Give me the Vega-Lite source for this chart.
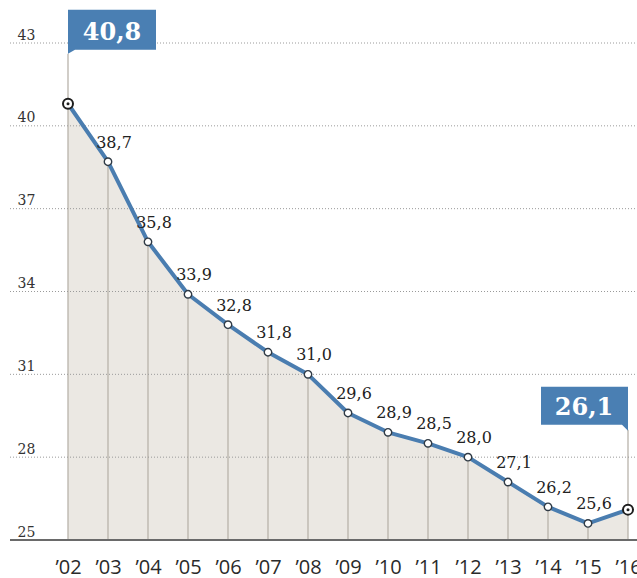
{
  "$schema": "https://vega.github.io/schema/vega-lite/v6.json",
  "width": 637,
  "height": 578,
  "autosize": "none",
  "padding": 0,
  "background": "white",
  "config": {
    "view": {"stroke": null},
    "locale": {"number": {"decimal": ",", "thousands": ".", "grouping": [3], "currency": ["", " €"]}}
  },
  "datasets": {
    "series": [
      {"year": 2002, "value": 40.8},
      {"year": 2003, "value": 38.7},
      {"year": 2004, "value": 35.8},
      {"year": 2005, "value": 33.9},
      {"year": 2006, "value": 32.8},
      {"year": 2007, "value": 31.8},
      {"year": 2008, "value": 31.0},
      {"year": 2009, "value": 29.6},
      {"year": 2010, "value": 28.9},
      {"year": 2011, "value": 28.5},
      {"year": 2012, "value": 28.0},
      {"year": 2013, "value": 27.1},
      {"year": 2014, "value": 26.2},
      {"year": 2015, "value": 25.6},
      {"year": 2016, "value": 26.1}
    ],
    "grid": [{"g": 28}, {"g": 31}, {"g": 34}, {"g": 37}, {"g": 40}, {"g": 43}],
    "base": [{"b": 25}]
  },
  "layer": [
    {
      "data": {"name": "series"},
      "mark": {"type": "area", "color": "#ebe8e3", "interpolate": "linear"},
      "encoding": {
        "x": {"field": "year", "type": "quantitative", "title": null,
              "scale": {"domain": [2002, 2016], "range": [68, 628], "zero": false, "nice": false},
              "axis": {"values": [2002,2003,2004,2005,2006,2007,2008,2009,2010,2011,2012,2013,2014,2015,2016],
                       "labelExpr": "'’' + substring(toString(datum.value), 2, 4)",
                       "domain": false, "ticks": false, "tickSize": 0, "grid": false, "labelFont": "Open Sans",
                       "labelFontSize": 20, "labelColor": "#2a2a2a", "labelPadding": -5,
                       "labelBaseline": "alphabetic", "labelFlush": false, "labelOverlap": false, "labelBound": false}},
        "y": {"field": "value", "type": "quantitative", "title": null,
              "scale": {"domain": [25, 43], "range": [540, 43], "zero": false, "nice": false},
              "axis": {"values": [25, 28, 31, 34, 37, 40, 43], "format": "d", "domain": false, "ticks": false, "tickSize": 0,
                       "grid": false, "labelAlign": "left", "labelPadding": -17, "labelOffset": -4,
                       "labelBaseline": "alphabetic", "labelFont": "DejaVu Serif", "labelFontSize": 14,
                       "labelColor": "#333333", "labelBound": false}},
        "y2": {"datum": 25}
      }
    },
    {
      "data": {"name": "series"},
      "mark": {"type": "rule", "color": "#b9b3ab", "strokeWidth": 1.3},
      "encoding": {
        "x": {"field": "year", "type": "quantitative"},
        "y": {"field": "value", "type": "quantitative"},
        "y2": {"datum": 25}
      }
    },
    {
      "data": {"name": "series"},
      "transform": [{"filter": "datum.year == 2002"}],
      "mark": {"type": "rule", "color": "#b9b3ab", "strokeWidth": 1.3, "y2Offset": -50},
      "encoding": {
        "x": {"field": "year", "type": "quantitative"},
        "y": {"field": "value", "type": "quantitative"},
        "y2": {"field": "value"}
      }
    },
    {
      "data": {"name": "series"},
      "transform": [{"filter": "datum.year == 2016"}],
      "mark": {"type": "rule", "color": "#b9b3ab", "strokeWidth": 1.3, "y2Offset": -80},
      "encoding": {
        "x": {"field": "year", "type": "quantitative"},
        "y": {"field": "value", "type": "quantitative"},
        "y2": {"field": "value"}
      }
    },
    {
      "data": {"name": "grid"},
      "mark": {"type": "rule", "color": "#9a9a9a", "strokeWidth": 1, "strokeDash": [1, 2]},
      "encoding": {
        "x": {"datum": 2000.55, "type": "quantitative"},
        "x2": {"datum": 2016.3},
        "y": {"field": "g", "type": "quantitative"}
      }
    },
    {
      "data": {"name": "base"},
      "mark": {"type": "rule", "color": "#6a6a6a", "strokeWidth": 2},
      "encoding": {
        "x": {"datum": 2000.55, "type": "quantitative"},
        "x2": {"datum": 2016.3},
        "y": {"field": "b", "type": "quantitative"}
      }
    },
    {
      "data": {"name": "series"},
      "mark": {"type": "line", "color": "#4a7db0", "strokeWidth": 4, "interpolate": "linear", "strokeJoin": "round", "strokeCap": "round"},
      "encoding": {
        "x": {"field": "year", "type": "quantitative"},
        "y": {"field": "value", "type": "quantitative"}
      }
    },
    {
      "data": {"name": "series"},
      "transform": [{"filter": "datum.year > 2002 && datum.year < 2016"}],
      "mark": {"type": "point", "filled": true, "fill": "white", "stroke": "#2f3a45", "strokeWidth": 1.4, "size": 55, "opacity": 1},
      "encoding": {
        "x": {"field": "year", "type": "quantitative"},
        "y": {"field": "value", "type": "quantitative"}
      }
    },
    {
      "data": {"name": "series"},
      "transform": [{"filter": "datum.year == 2002 || datum.year == 2016"}],
      "mark": {"type": "point", "filled": true, "fill": "white", "stroke": "#1e1e1e", "strokeWidth": 2, "size": 100, "opacity": 1},
      "encoding": {
        "x": {"field": "year", "type": "quantitative"},
        "y": {"field": "value", "type": "quantitative"}
      }
    },
    {
      "data": {"name": "series"},
      "transform": [{"filter": "datum.year == 2002 || datum.year == 2016"}],
      "mark": {"type": "point", "filled": true, "fill": "#1e1e1e", "size": 9, "opacity": 1},
      "encoding": {
        "x": {"field": "year", "type": "quantitative"},
        "y": {"field": "value", "type": "quantitative"}
      }
    },
    {
      "data": {"name": "series"},
      "transform": [{"filter": "datum.year > 2002 && datum.year < 2016"}],
      "mark": {"type": "text", "font": "DejaVu Serif", "fontSize": 16, "color": "#222222", "align": "center", "baseline": "alphabetic", "dx": 6, "dy": -14},
      "encoding": {
        "x": {"field": "year", "type": "quantitative"},
        "y": {"field": "value", "type": "quantitative"},
        "text": {"field": "value", "type": "quantitative", "format": ".1f"}
      }
    },
    {
      "data": {"name": "series"},
      "transform": [{"filter": "datum.year == 2002"}],
      "mark": {"type": "point", "shape": "M0,-94H88V-54H7L0,-50Z", "size": 4, "filled": true, "fill": "#4a7fb3", "strokeWidth": 0, "opacity": 1},
      "encoding": {
        "x": {"field": "year", "type": "quantitative"},
        "y": {"field": "value", "type": "quantitative"}
      }
    },
    {
      "data": {"name": "series"},
      "transform": [{"filter": "datum.year == 2016"}],
      "mark": {"type": "point", "shape": "M-87,-123H0V-79L-6,-85H-87Z", "size": 4, "filled": true, "fill": "#4a7fb3", "strokeWidth": 0, "opacity": 1},
      "encoding": {
        "x": {"field": "year", "type": "quantitative"},
        "y": {"field": "value", "type": "quantitative"}
      }
    },
    {
      "data": {"name": "series"},
      "transform": [{"filter": "datum.year == 2002"}],
      "mark": {"type": "text", "font": "DejaVu Serif", "fontSize": 24, "fontWeight": "bold", "color": "white", "align": "center", "baseline": "alphabetic", "dx": 44, "dy": -64},
      "encoding": {
        "x": {"field": "year", "type": "quantitative"},
        "y": {"field": "value", "type": "quantitative"},
        "text": {"field": "value", "type": "quantitative", "format": ".1f"}
      }
    },
    {
      "data": {"name": "series"},
      "transform": [{"filter": "datum.year == 2016"}],
      "mark": {"type": "text", "font": "DejaVu Serif", "fontSize": 24, "fontWeight": "bold", "color": "white", "align": "center", "baseline": "alphabetic", "dx": -44, "dy": -95},
      "encoding": {
        "x": {"field": "year", "type": "quantitative"},
        "y": {"field": "value", "type": "quantitative"},
        "text": {"field": "value", "type": "quantitative", "format": ".1f"}
      }
    }
  ]
}
